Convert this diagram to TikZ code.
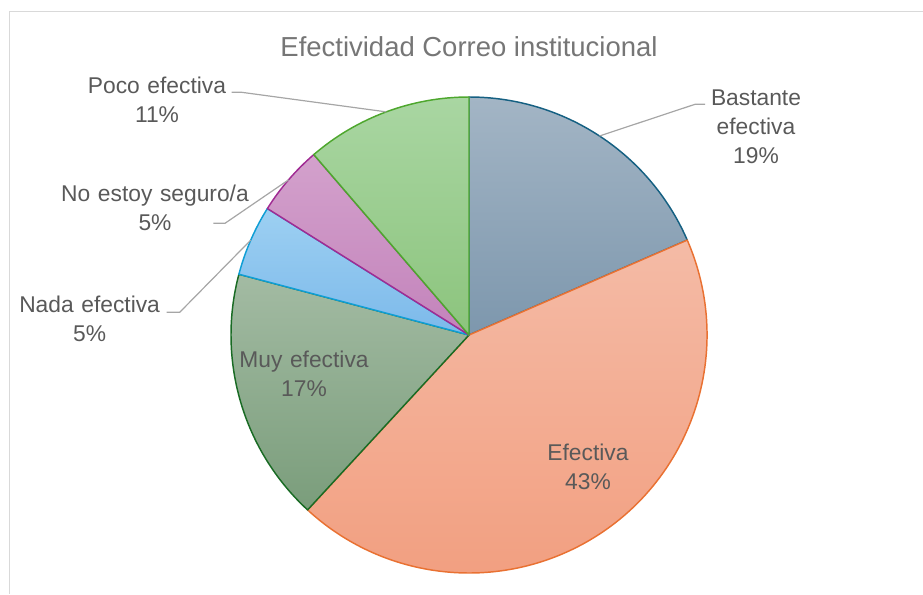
\documentclass[tikz,border=0pt]{standalone}
\usepackage{fontspec}
\setmainfont{Liberation Sans}
\usepackage{tikz}
\usetikzlibrary{positioning}

\definecolor{bastanteline}{HTML}{156082}
\definecolor{efectline}{HTML}{E97132}
\definecolor{muyline}{HTML}{196B24}
\definecolor{nadaline}{HTML}{0F9ED5}
\definecolor{noseguroline}{HTML}{A02B93}
\definecolor{pocoline}{HTML}{4EA72E}
\definecolor{bastantetop}{HTML}{A3B5C5}
\definecolor{bastantebot}{HTML}{7D97AD}
\definecolor{efecttop}{HTML}{F4BBA6}
\definecolor{efectbot}{HTML}{F29E7F}
\definecolor{muytop}{HTML}{A3BBA3}
\definecolor{muybot}{HTML}{7A9D7B}
\definecolor{nadatop}{HTML}{9DD0F2}
\definecolor{nadabot}{HTML}{7CB9EA}
\definecolor{novtop}{HTML}{D3A1CC}
\definecolor{novbot}{HTML}{C383BB}
\definecolor{pocotop}{HTML}{A9D6A2}
\definecolor{pocobot}{HTML}{8CC47D}
\definecolor{lblgray}{HTML}{595959}
\definecolor{titlegray}{HTML}{767676}
\definecolor{leadergray}{HTML}{A6A6A6}
\definecolor{framegray}{HTML}{D9D9D9}

\tikzset{
  slice/.style={line width=1.1pt, line join=round},
  lbl/.style={font=\fontsize{17.1pt}{21.75pt}\selectfont, text=lblgray, align=center, text width=150pt, inner sep=0pt, anchor=base},
  leader/.style={leadergray, line width=0.9pt},
}
\newcommand{\R}{178.5pt}

\begin{document}
\begin{tikzpicture}[x=0.75pt, y=0.75pt]
\useasboundingbox (-469,-259) rectangle (454,335);
% chart frame
\draw[framegray, line width=1.1pt] (454,323.3) -- (-459.5,323.3) -- (-459.5,-259);

% Title
\node[font=\fontsize{20.6pt}{24pt}\selectfont, text=titlegray, anchor=base, inner sep=0pt] (title) at (0,278.3) {Efectividad Correo institucional};

% Slices, clockwise from the top
\path[slice, draw=bastanteline, top color=bastantetop, bottom color=bastantebot]
  (0,0) -- (90:\R) arc[start angle=90, end angle=23.5, radius=\R] -- cycle;
\path[slice, draw=efectline, top color=efecttop, bottom color=efectbot]
  (0,0) -- (23.5:\R) arc[start angle=23.5, end angle=-132.7, radius=\R] -- cycle;
\path[slice, draw=muyline, top color=muytop, bottom color=muybot]
  (0,0) -- (-132.7:\R) arc[start angle=-132.7, end angle=-194.8, radius=\R] -- cycle;
\path[slice, draw=nadaline, top color=nadatop, bottom color=nadabot]
  (0,0) -- (-194.8:\R) arc[start angle=-194.8, end angle=-212.1, radius=\R] -- cycle;
\path[slice, draw=noseguroline, top color=novtop, bottom color=novbot]
  (0,0) -- (-212.1:\R) arc[start angle=-212.1, end angle=-229.3, radius=\R] -- cycle;
\path[slice, draw=pocoline, top color=pocotop, bottom color=pocobot]
  (0,0) -- (-229.3:\R) arc[start angle=-229.3, end angle=-270, radius=\R] -- cycle;

% Data labels
\node[lbl] (bastante) at (287,230) {Bastante\\efectiva\\19\%};
\node[lbl] (efectiva) at (119,-125.7) {Efectiva\\43\%};
\node[lbl] (muy) at (-165,-32.3) {Muy efectiva\\17\%};
\node[lbl] (nada) at (-379.4,22.7) {Nada efectiva\\5\%};
\node[lbl] (noseguro) at (-314,133.3) {No estoy seguro/a\\5\%};
\node[lbl] (poco) at (-312,241.7) {Poco efectiva\\11\%};

% Leader lines
\coordinate (bastanteK) at (236,230.7);
\coordinate (bastanteP) at (56.75:\R);
\coordinate (nadaK) at (-302.3,22.7);
\coordinate (nadaP) at (156.5:\R);
\coordinate (noseguroK) at (-255.7,111.7);
\coordinate (noseguroP) at (139.3:\R);
\coordinate (pocoK) at (-237.3,242.7);
\coordinate (pocoP) at (110.35:\R);
\draw[leader] (bastanteK) -- ++(-10,0) -- (bastanteP);
\draw[leader] (nadaK) -- ++(13,0) -- (nadaP);
\draw[leader] (noseguroK) -- ++(11.7,0) -- (noseguroP);
\draw[leader] (pocoK) -- ++(10,0) -- (pocoP);

\end{tikzpicture}
\end{document}
